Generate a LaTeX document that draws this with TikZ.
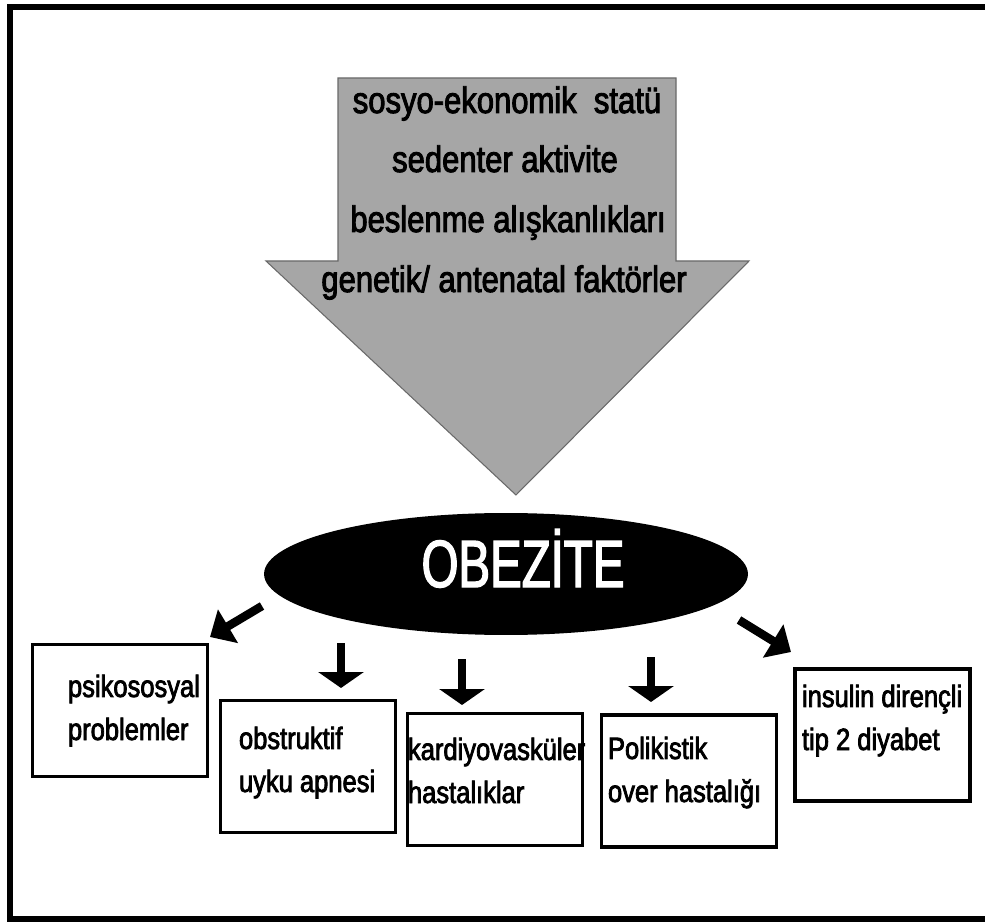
\documentclass[tikz,border=0pt]{standalone}
\usepackage{fontspec}
\setmainfont{Liberation Sans}
\newfontfamily\causefont[FakeStretch=0.84, FakeBold=2.5]{Liberation Sans}
\newfontfamily\resultfont[FakeStretch=0.83, FakeBold=2.5]{Liberation Sans}
\newfontfamily\obezfont[FakeStretch=0.71, FakeBold=2]{Liberation Sans}
\usetikzlibrary{arrows.meta, shapes.geometric}
\definecolor{arrowgray}{RGB}{166,166,166}
\definecolor{edgegray}{RGB}{105,105,105}

\begin{document}
\begin{tikzpicture}[
    x=0.02cm, y=-0.02cm,
    every node/.style={inner sep=0pt, outer sep=0pt},
    frame/.style={line width=0.12cm, black, line join=miter},
    bigarrow/.style={fill=arrowgray, draw=edgegray, line width=0.6pt},
    cause/.style={font=\causefont\fontsize{21}{24}\selectfont, anchor=base},
    obez/.style={ellipse, fill=black, minimum width=9.68cm, minimum height=2.44cm},
    obeztext/.style={font=\obezfont\fontsize{38}{40}\selectfont, text=white, anchor=base},
    result/.style={draw, line width=0.065cm, minimum width=3.5cm, minimum height=2.64cm},
    resulttext/.style={font=\resultfont\fontsize{17.5}{24.5}\selectfont, align=left, anchor=base west},
    fatarrow/.style={line width=0.17cm, -{Triangle[length=0.32cm, width=0.9cm]}},
    diagarrow/.style={line width=0.17cm, -{Triangle[length=0.42cm, width=0.76cm]}},
]
\useasboundingbox (0,0) rectangle (985,922);

% --- Çerçeve (sağ kenar görünmüyor) ---------------------------------
\draw[frame] (1000,7) -- (10,7) -- (10,919) -- (1000,919);

% --- Büyük gri ok: nedenler -----------------------------------------
\draw[bigarrow] (338,78) -- (676,78) -- (676,261) -- (749,261)
    -- (516,495) -- (266,261) -- (338,261) -- cycle;

\node[cause] (sosyo)    at (507,113) {sosyo-ekonomik\ \ statü};
\node[cause] (sedenter) at (505,172) {sedenter aktivite};
\node[cause] (beslenme) at (508,232) {beslenme alışkanlıkları};
\node[cause] (genetik)  at (504,292) {genetik/ antenatal faktörler};

% --- Obezite elipsi --------------------------------------------------
\node[obez] (obezite) at (506,574) {};
\node[obeztext] (obezlabel) at (523,587) {OBEZİTE};

% --- Sonuç kutuları --------------------------------------------------
\node[result] (psiko)    at (120,710.5) {};
\node[result] (apne)     at (308,766.5) {};
\node[result] (kardiyo)  at (495,779.5) {};
\node[result] (pkos)     at (689,781)   {};
\node[result] (insulin)  at (882.5,735) {};

% (base = son satırın taban çizgisi)
\node[resulttext] (psikotext)   at (68,740)  {psikososyal\\problemler};
\node[resulttext] (apnetext)    at (239,792) {obstruktif\\uyku apnesi};
\node[resulttext] (kardiyotext) at (408,803) {kardiyovasküler\\hastalıklar};
\node[resulttext] (pkostext)    at (608,802) {Polikistik\\over hastalığı};
\node[resulttext] (insulintext) at (802,750) {insulin dirençli\\tip 2 diyabet};

% --- Oklar -----------------------------------------------------------
\coordinate (ob-psiko)   at (262,606);  \coordinate (psiko-in)   at (210,637);
\coordinate (ob-apne)    at (341,643);  \coordinate (apne-in)    at (341,688);
\coordinate (ob-kardiyo) at (462,659);  \coordinate (kardiyo-in) at (462,705);
\coordinate (ob-pkos)    at (651,657);  \coordinate (pkos-in)    at (651,702);
\coordinate (ob-insulin) at (739,620);  \coordinate (insulin-in) at (791,652);

\draw[diagarrow] (ob-psiko) -- (psiko-in);
\draw[fatarrow]  (ob-apne) -- (apne-in);
\draw[fatarrow]  (ob-kardiyo) -- (kardiyo-in);
\draw[fatarrow]  (ob-pkos) -- (pkos-in);
\draw[diagarrow] (ob-insulin) -- (insulin-in);

\end{tikzpicture}
\end{document}
